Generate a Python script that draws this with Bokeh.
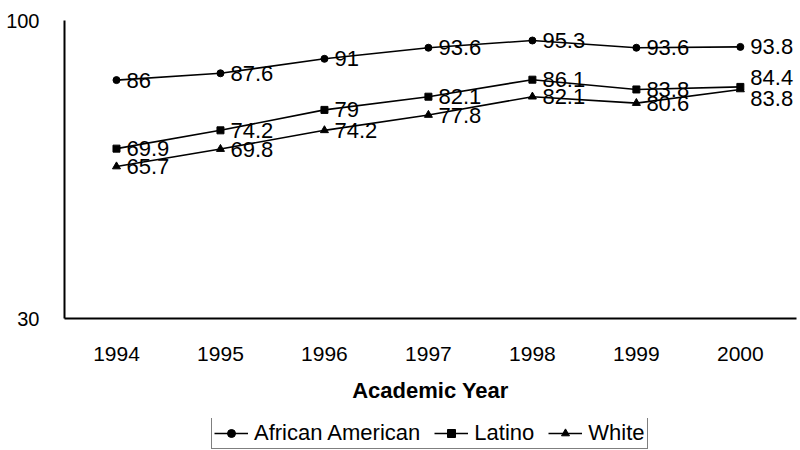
from bokeh.plotting import figure
from bokeh.layouts import column
from bokeh.models import Range1d, FixedTicker, Legend, LegendItem, ColumnDataSource
from bokeh.core.properties import value
from bokeh.embed import file_html
from bokeh.resources import INLINE

years = [1994, 1995, 1996, 1997, 1998, 1999, 2000]
year_labels = ["1994", "1995", "1996", "1997", "1998", "1999", "2000"]
african_american = [86, 87.6, 91, 93.6, 95.3, 93.6, 93.8]
latino = [69.9, 74.2, 79, 82.1, 86.1, 83.8, 84.4]
white = [65.7, 69.8, 74.2, 77.8, 82.1, 80.6, 83.8]
y_ticks = [30, 100]

FONT = "Liberation Sans"

p = figure(width=800, height=418, output_backend="svg",
           toolbar_location=None, x_range=Range1d(1993.5, 2000.54),
           y_range=Range1d(30, 100), min_border_left=64, min_border_top=20,
           min_border_right=4, min_border_bottom=100)
p.outline_line_color = None
p.grid.grid_line_color = None
p.background_fill_color = "white"

# legend-only figure below the chart
lf = figure(width=800, height=32, output_backend="svg", toolbar_location=None,
            x_range=Range1d(0, 1), y_range=Range1d(0, 1),
            min_border=0, x_axis_location=None, y_axis_location=None)
lf.outline_line_color = None
lf.grid.grid_line_color = None

series = [
    ("African American", african_american, "circle", 7, 0, 5),
    ("Latino", latino, "square", 7, -9, 6),
    ("White", white, "triangle", 8, 9, 7),
]

items = []
for name, vals, marker, size, last_off, lsize in series:
    offs = [0] * (len(years) - 1) + [last_off]
    src = ColumnDataSource(dict(x=years, y=vals,
                                t=[("%g" % v) for v in vals], yo=offs))
    p.line("x", "y", source=src, line_color="black", line_width=1.6)
    p.scatter("x", "y", source=src, marker=marker, size=size,
              fill_color="black", line_color="black")
    p.text("x", "y", text="t", source=src, x_offset=10, y_offset="yo",
           text_baseline="middle", text_align="left",
           text_font=value(FONT), text_font_size="22px", text_color="black")
    # proxies for the legend (their data lie outside the legend figure's view)
    ln = lf.line(years, vals, line_color="black", line_width=1.6)
    sc = lf.scatter(years, vals, marker=marker, size=lsize,
                    fill_color="black", line_color="black")
    items.append(LegendItem(label=name, renderers=[ln, sc]))

xa = p.xaxis[0]
xa.ticker = FixedTicker(ticks=years)
xa.major_label_overrides = {y: l for y, l in zip(years, year_labels)}
xa.major_tick_line_color = None
xa.minor_tick_line_color = None
xa.axis_line_width = 2
xa.axis_line_color = "black"
xa.major_label_text_font = FONT
xa.major_label_text_font_size = "21px"
xa.major_label_text_color = "black"
xa.major_label_standoff = 22
xa.axis_label = "Academic Year"
xa.axis_label_text_font = FONT
xa.axis_label_text_font_style = "bold"
xa.axis_label_text_font_size = "22px"
xa.axis_label_text_color = "black"
xa.axis_label_standoff = 14

ya = p.yaxis[0]
ya.ticker = FixedTicker(ticks=y_ticks)
ya.major_tick_line_color = None
ya.minor_tick_line_color = None
ya.axis_line_width = 2
ya.axis_line_color = "black"
ya.major_label_text_font = FONT
ya.major_label_text_font_size = "20px"
ya.major_label_text_color = "black"
ya.major_label_standoff = 19

legend = Legend(items=items, orientation="horizontal", location=(147, 1),
                label_text_font=FONT, label_text_font_size="22px",
                label_text_color="black", glyph_width=34, glyph_height=20,
                label_standoff=6, spacing=14, padding=2, margin=0,
                label_height=20, border_line_color="black",
                border_line_width=1.5, background_fill_alpha=1.0)
lf.add_layout(legend, "center")

layout = column(p, lf, spacing=0)
open("out.html", "w").write(file_html(layout, INLINE))
